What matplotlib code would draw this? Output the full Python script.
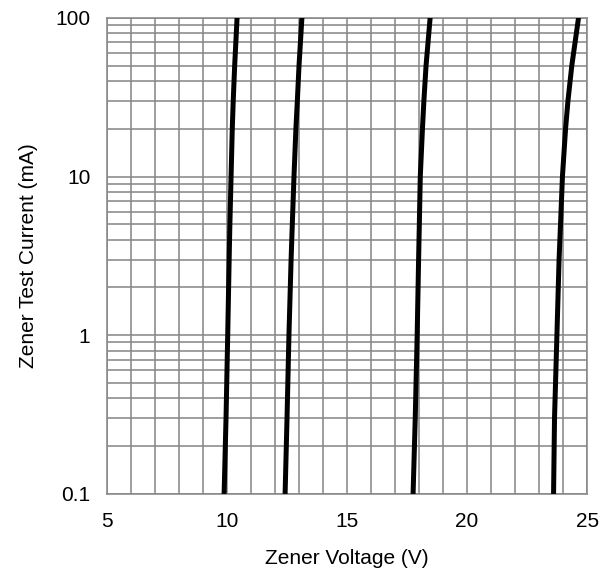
import matplotlib.pyplot as plt
from matplotlib.ticker import FixedLocator, LogLocator, NullFormatter

plt.rcParams['font.family'] = ['Liberation Sans', 'DejaVu Sans']

# test current points (mA) and zener voltage of each curve (V)
current = [0.1, 0.3, 1, 3, 5, 10, 20, 30, 50, 100]
vz_10 = [9.88, 9.96, 10.03, 10.09, 10.12, 10.17, 10.22, 10.26, 10.32, 10.42]
vz_12 = [12.42, 12.50, 12.58, 12.67, 12.72, 12.79, 12.87, 12.93, 13.00, 13.12]
vz_18 = [17.75, 17.84, 17.92, 17.98, 18.01, 18.05, 18.14, 18.20, 18.29, 18.46]
vz_24 = [23.60, 23.64, 23.74, 23.83, 23.89, 23.97, 24.10, 24.20, 24.36, 24.64]

xticks = [5, 10, 15, 20, 25]
yticks = [0.1, 1, 10, 100]
ytick_labels = ['0.1', '1', '10', '100']

fig = plt.figure(figsize=(6.11, 5.75), dpi=100)
ax = fig.add_axes([0.175, 0.141, 0.786, 0.828])

for vz in [vz_10, vz_12, vz_18, vz_24]:
    ax.plot(vz, current, color='black', lw=3.6, solid_capstyle='butt', zorder=3)

ax.set_yscale('log')
ax.set_xlim(5, 25)
ax.set_ylim(0.1, 100)

ax.set_xticks(xticks)
ax.set_xticklabels([str(t) for t in xticks])
ax.xaxis.set_minor_locator(FixedLocator(range(5, 26)))
ax.set_yticks(yticks)
ax.set_yticklabels(ytick_labels)
ax.yaxis.set_minor_locator(LogLocator(base=10, subs=range(2, 10)))
ax.yaxis.set_minor_formatter(NullFormatter())

ax.grid(True, which='both', color='#888888', lw=1.15, zorder=1)
ax.set_axisbelow(True)
ax.tick_params(which='both', length=0, labelsize=15)
ax.tick_params(axis='x', pad=13)
ax.tick_params(axis='y', pad=12)

for sp in ax.spines.values():
    sp.set_color('#888888')
    sp.set_linewidth(1.15)

ax.set_xlabel('Zener Voltage (V)', fontsize=15, labelpad=13)
ax.set_ylabel('Zener Test Current (mA)', fontsize=15, labelpad=12)

fig.savefig('out.png', dpi=100, facecolor='white')
